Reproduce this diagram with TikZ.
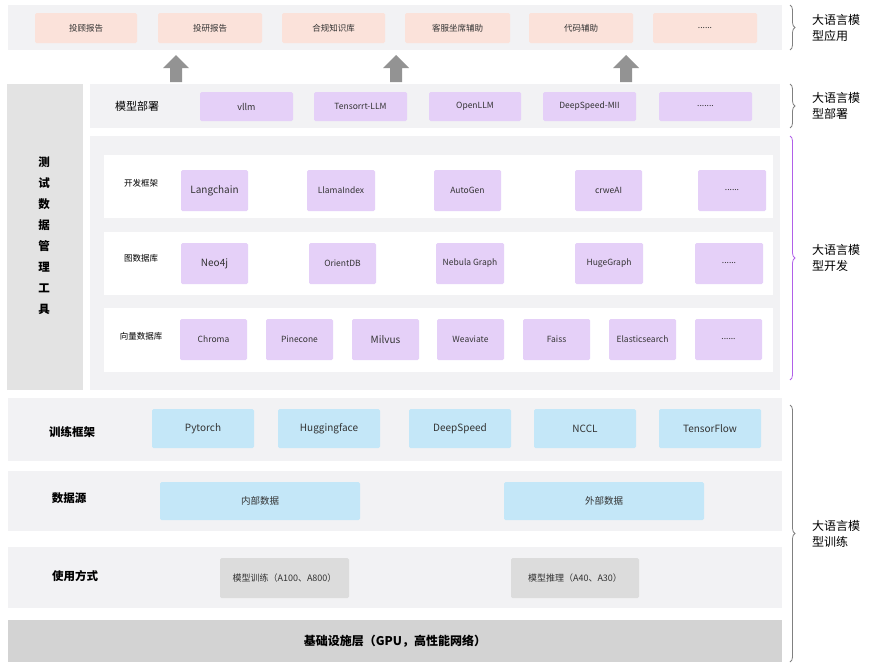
\documentclass[tikz,border=0pt]{standalone}
\usepackage{fontspec}
\setmainfont{Noto Sans CJK SC}
\usetikzlibrary{decorations.pathreplacing,arrows.meta}
\definecolor{bandc}{HTML}{F2F2F4}
\definecolor{pinkc}{HTML}{FBE2DA}
\definecolor{purc}{HTML}{E5D0F8}
\definecolor{bluec}{HTML}{C4E7F8}
\definecolor{grayb}{HTML}{DCDCDC}
\definecolor{leftc}{HTML}{E3E3E3}
\definecolor{basec}{HTML}{D3D3D3}
\definecolor{bracep}{HTML}{B060E8}
\begin{document}
\begin{tikzpicture}[x=1pt,y=-1pt,
 band/.style={fill=bandc,draw=none},
 bx/.style={rounded corners=1.5pt,draw=none,font=\fontsize{8.5}{10}\selectfont,text=black!80},
 lab/.style={font=\bfseries\fontsize{11.5}{14}\selectfont},
 rl/.style={font=\fontsize{12}{16}\selectfont,align=left},
 br/.style={decorate,decoration={brace,amplitude=5pt},line width=0.8pt,draw=gray}]
\useasboundingbox (0,0) rectangle (870,670);
\newcommand\bbox[6]{\fill[#6,rounded corners=1.5pt] (#1,#3) rectangle (#2,#4); \node[bx] at ({(#1+#2)/2},{(#3+#4)/2}) {#5};}
% top application band
\fill[band] (8,5) rectangle (782,50);
\bbox{35}{137}{13}{43}{投顾报告}{pinkc}
\bbox{158}{262}{13}{43}{投研报告}{pinkc}
\bbox{282}{385}{13}{43}{合规知识库}{pinkc}
\bbox{405}{510}{13}{43}{客服坐席辅助}{pinkc}
\bbox{529}{633}{13}{43}{代码辅助}{pinkc}
\bbox{653}{757}{13}{43}{......}{pinkc}
\foreach \x in {176,396,626}{
 \fill[gray!85] (\x-6,82) -- (\x-6,68) -- (\x-13,68) -- (\x,55) -- (\x+13,68) -- (\x+6,68) -- (\x+6,82) -- cycle;}
% left tool
\fill[leftc] (7,84) rectangle (83,390);
\node[align=center,font=\bfseries\fontsize{11.5}{21}\selectfont] (tool) at (44,236) {测\\试\\数\\据\\管\\理\\工\\具};
% deployment
\fill[band] (90,84) rectangle (780,128);
\node[lab,font=\fontsize{11}{13}\selectfont] (dep) at (137,106) {模型部署};
\bbox{200}{293}{92}{121}{\fontsize{9}{11}\selectfont vllm}{purc}
\bbox{314}{407}{92}{121}{Tensorrt-LLM}{purc}
\bbox{429}{521}{92}{121}{OpenLLM}{purc}
\bbox{543}{636}{92}{121}{DeepSpeed-MII}{purc}
\bbox{659}{752}{92}{121}{.......}{purc}
% development
\fill[band] (90,136) rectangle (780,390);
\fill[white] (104,155) rectangle (773,218);
\fill[white] (104,232) rectangle (773,295);
\fill[white] (104,308) rectangle (773,372);
\node[font=\fontsize{8.5}{10}\selectfont] at (141,183) {开发框架};
\node[font=\fontsize{8.5}{10}\selectfont] at (141,258) {图数据库};
\node[font=\fontsize{8.5}{10}\selectfont] at (141,336) {向量数据库};
\bbox{181}{248}{170}{211}{\fontsize{10}{12}\selectfont Langchain}{purc}
\bbox{307}{375}{170}{211}{LlamaIndex}{purc}
\bbox{434}{501}{170}{211}{AutoGen}{purc}
\bbox{575}{642}{170}{211}{crweAI}{purc}
\bbox{698}{766}{170}{211}{......}{purc}
\bbox{181}{248}{243}{284}{\fontsize{10}{12}\selectfont Neo4j}{purc}
\bbox{309}{376}{243}{284}{OrientDB}{purc}
\bbox{436}{504}{243}{284}{Nebula Graph}{purc}
\bbox{575}{643}{243}{284}{HugeGraph}{purc}
\bbox{695}{763}{243}{284}{......}{purc}
\bbox{180}{247}{319}{360}{Chroma}{purc}
\bbox{266}{333}{319}{360}{Pinecone}{purc}
\bbox{352}{419}{319}{360}{\fontsize{10}{12}\selectfont Milvus}{purc}
\bbox{437}{504}{319}{360}{Weaviate}{purc}
\bbox{523}{590}{319}{360}{Faiss}{purc}
\bbox{609}{676}{319}{360}{Elasticsearch}{purc}
\bbox{695}{762}{319}{360}{......}{purc}
% training
\fill[band] (8,398) rectangle (782,461);
\node[lab] at (72,432) {训练框架};
\bbox{152}{254}{409}{448}{\fontsize{10}{12}\selectfont Pytorch}{bluec}
\bbox{278}{380}{409}{448}{\fontsize{10}{12}\selectfont Huggingface}{bluec}
\bbox{409}{511}{409}{448}{\fontsize{10}{12}\selectfont DeepSpeed}{bluec}
\bbox{534}{636}{409}{448}{\fontsize{10}{12}\selectfont NCCL}{bluec}
\bbox{659}{761}{409}{448}{\fontsize{10}{12}\selectfont TensorFlow}{bluec}
\fill[band] (8,471) rectangle (782,531);
\node[lab] at (69,498) {数据源};
\bbox{160}{360}{482}{520}{\fontsize{9.5}{11}\selectfont 内部数据}{bluec}
\bbox{504}{704}{482}{520}{\fontsize{9.5}{11}\selectfont 外部数据}{bluec}
\fill[band] (8,547) rectangle (782,608);
\node[lab] at (75,576) {使用方式};
\bbox{220}{349}{558}{598}{\fontsize{9}{11}\selectfont 模型训练（A100、A800）}{grayb}
\bbox{511}{639}{558}{598}{\fontsize{9}{11}\selectfont 模型推理（A40、A30）}{grayb}
\fill[basec] (8,620) rectangle (782,662);
\node[font=\bfseries\fontsize{12}{14}\selectfont] at (395,641) {基础设施层（GPU，高性能网络）};
% braces
\draw[br] (790,5) -- (790,50);
\node[rl] at (836,28) {大语言模\\型应用};
\draw[br] (790,84) -- (790,128);
\node[rl] at (836,106) {大语言模\\型部署};
\draw[br,draw=bracep] (790,136) -- (790,380);
\node[rl] at (836,258) {大语言模\\型开发};
\draw[br] (790,405) -- (790,662);
\node[rl] at (836,534) {大语言模\\型训练};
\end{tikzpicture}
\end{document}
